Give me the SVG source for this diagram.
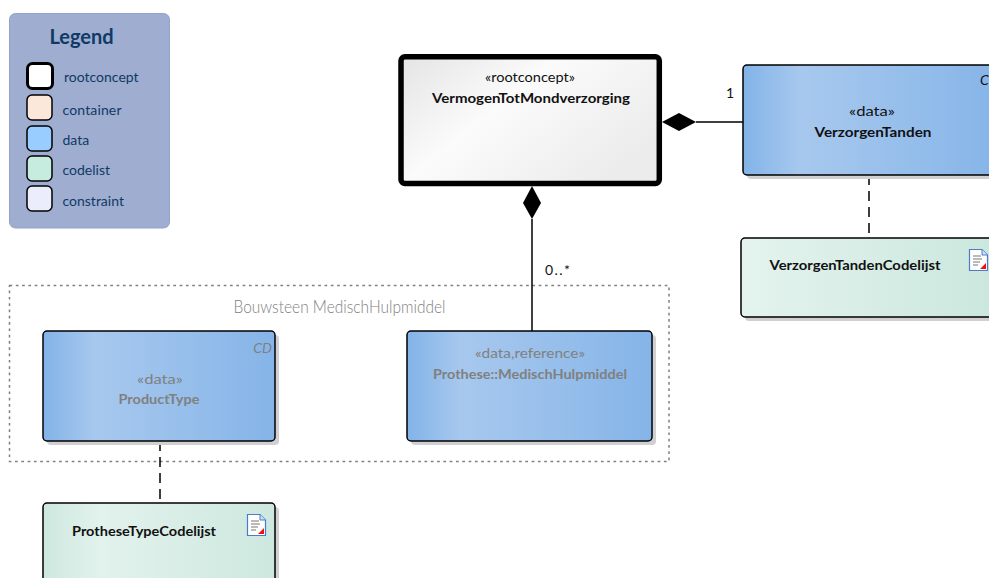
<svg xmlns="http://www.w3.org/2000/svg" width="989" height="578" viewBox="0 0 989 578">
<style>
text{font-family:"Lato","Carlito","Liberation Sans",sans-serif;font-size:14px;fill:#111;text-anchor:middle}
.b{font-weight:700}
.leg{fill:#0f3a66;text-anchor:start;font-size:14px}
.g{fill:#808080}
.sw{stroke:#000;stroke-width:1.5}
.n{stroke:#000;stroke-width:1.5}
.sh{fill:#d0d0d0}
.con{fill:none;stroke:#000;stroke-width:1.5}
.dash{stroke-dasharray:10 6}
</style>
<defs>
<linearGradient id="blue" x1="0" x2="1" y1="0" y2="0"><stop offset="0" stop-color="#82b3e8"/><stop offset=".22" stop-color="#a7c8ee"/><stop offset=".6" stop-color="#97bfeb"/><stop offset="1" stop-color="#85b4e8"/></linearGradient>
<linearGradient id="green" x1="0" x2="1" y1="0" y2="0"><stop offset="0" stop-color="#cde8df"/><stop offset=".25" stop-color="#e2f2ec"/><stop offset="1" stop-color="#cde8df"/></linearGradient>
<linearGradient id="green2" x1="0" x2="1" y1="0" y2="0"><stop offset="0" stop-color="#e4f3ee"/><stop offset="1" stop-color="#cae7dd"/></linearGradient>
<linearGradient id="grey" x1="0" x2="1" y1="0" y2="0.6"><stop offset="0" stop-color="#e4e4e4"/><stop offset=".45" stop-color="#fbfbfb"/><stop offset="1" stop-color="#ececec"/></linearGradient>
<g id="doc"><path d="M0.500 0.500H13L18.500 6V21.500H0.500Z" fill="#fff" stroke="#4a7cc8" stroke-width="1.200"/><path d="M13 0.500V6H18.500" fill="#cfe0f7" stroke="#4a7cc8"/><path d="M4 7H12M4 10H13M4 13H11M4 16H9" stroke="#777" stroke-width="1"/><path d="M11 20L17 20L17 14Z" fill="#f01010"/></g>
</defs>
<g id="legend">
<rect x="9.500" y="13.500" width="160" height="214.500" rx="6" fill="#9fadd0" stroke="#93a2c7"/>
<text x="81.500" y="44" class="b" style="font-size:20px;fill:#0f3a66">Legend</text>
<rect class="sw" x="27.500" y="63.500" width="25" height="25" rx="5" fill="#fff" style="stroke-width:3"/>
<text class="leg" x="64" y="82">rootconcept</text>
<rect class="sw" x="27" y="95" width="25" height="25" rx="5" fill="#fbe8da"/>
<text class="leg" x="62.500" y="115" textLength="59">container</text>
<rect class="sw" x="27" y="126" width="25" height="25" rx="5" fill="#99ccff"/>
<text class="leg" x="62.500" y="145">data</text>
<rect class="sw" x="27" y="156" width="25" height="25" rx="5" fill="#c6ebdf"/>
<text class="leg" x="62.500" y="175">codelist</text>
<rect class="sw" x="27" y="186" width="25" height="25" rx="5" fill="#ebedfd"/>
<text class="leg" x="62.500" y="206">constraint</text>
</g>
<g id="boundary">
<rect x="9.500" y="285.500" width="659.500" height="176" fill="none" stroke="#808080" stroke-width="1.500" stroke-dasharray="2.700 3.600"/>
<text x="339.500" y="313" class="g" style="font-size:18px;font-weight:300" textLength="212" lengthAdjust="spacingAndGlyphs">Bouwsteen MedischHulpmiddel</text>
</g>
<g id="connectors">
<path class="con" d="M696 122H743"/>
<path d="M662 122L679 113L696 122L679 131Z" fill="#000"/>
<path class="con" d="M532 219V331"/>
<path d="M532 186L541 203L532 219L523 203Z" fill="#000"/>
<path class="con dash" d="M869 175V238"/>
<path class="con dash" d="M160 441V503"/>
<text x="730" y="98">1</text>
<text x="557.500" y="275" textLength="25">0..*</text>
</g>
<g id="VermogenTotMondverzorging">
<rect x="401" y="56.700" width="258.300" height="126.800" rx="4" fill="url(#grey)" stroke="#000" stroke-width="5.500"/>
<text x="530" y="82" textLength="90" lengthAdjust="spacingAndGlyphs">«rootconcept»</text>
<text x="531" y="103" class="b" textLength="198" lengthAdjust="spacingAndGlyphs">VermogenTotMondverzorging</text>
</g>
<g id="VerzorgenTanden">
<rect class="sh" x="747" y="69" width="260" height="110" rx="4"/>
<rect class="n" x="743" y="65" width="260" height="110" rx="4" fill="url(#blue)"/>
<text x="980" y="85" style="text-anchor:start;font-style:italic">CD</text>
<text x="872" y="116" textLength="46" lengthAdjust="spacingAndGlyphs">«data»</text>
<text x="873" y="137" class="b" textLength="117" lengthAdjust="spacingAndGlyphs">VerzorgenTanden</text>
</g>
<g id="VerzorgenTandenCodelijst">
<rect class="sh" x="745" y="242" width="260" height="79" rx="4"/>
<rect class="n" x="741" y="238" width="260" height="79" rx="4" fill="url(#green2)"/>
<text x="855" y="270" class="b" textLength="171" lengthAdjust="spacingAndGlyphs">VerzorgenTandenCodelijst</text>
<use href="#doc" x="969" y="249"/>
</g>
<g id="ProductType">
<rect class="sh" x="47" y="335" width="232" height="110" rx="4"/>
<rect class="n" x="43" y="331" width="232" height="110" rx="4" fill="url(#blue)"/>
<text x="272" y="353" class="g" style="text-anchor:end;font-style:italic">CD</text>
<text x="160" y="384" class="g" textLength="46" lengthAdjust="spacingAndGlyphs">«data»</text>
<text x="159" y="404" class="b g" textLength="81" lengthAdjust="spacingAndGlyphs">ProductType</text>
</g>
<g id="MedischHulpmiddel">
<rect class="sh" x="411" y="335" width="245" height="110" rx="4"/>
<rect class="n" x="407" y="331" width="245" height="110" rx="4" fill="url(#blue)"/>
<text x="530" y="358" class="g" textLength="110" lengthAdjust="spacingAndGlyphs">«data,reference»</text>
<text x="530" y="379" class="b g" textLength="194" lengthAdjust="spacingAndGlyphs">Prothese::MedischHulpmiddel</text>
</g>
<g id="ProtheseTypeCodelijst">
<rect class="sh" x="47" y="507" width="232" height="90" rx="4"/>
<rect class="n" x="43" y="503" width="232" height="90" rx="4" fill="url(#green)"/>
<text x="144" y="536" class="b" textLength="144" lengthAdjust="spacingAndGlyphs">ProtheseTypeCodelijst</text>
<use href="#doc" x="247" y="514"/>
</g>
</svg>
